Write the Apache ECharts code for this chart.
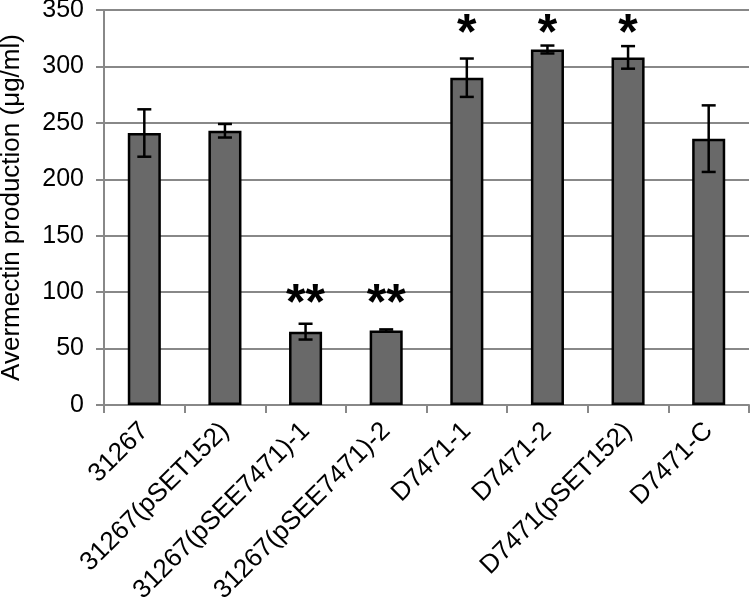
<!DOCTYPE html>
<html><head><meta charset="utf-8">
<script src="https://cdn.jsdelivr.net/npm/echarts@6/dist/echarts.min.js"></script>
<style>html,body{margin:0;padding:0;background:#fff}#c{width:750px;height:599px}</style>
</head><body><div id="c"></div>
<script>
const categories = ['31267','31267(pSET152)','31267(pSEE7471)-1','31267(pSEE7471)-2','D7471-1','D7471-2','D7471(pSET152)','D7471-C'];
const means = [241, 243, 65, 66, 290, 315, 308, 236];
const errors = [21, 6, 7, 1, 17, 3.5, 10, 29.5];
const stars = ['', '', '**', '**', '*', '*', '*', ''];
const starLevels = [null, null, 88, 88, 328, 328, 328, null];
const yTicks = [0, 350, 50];

const chart = echarts.init(document.getElementById('c'));
const font = '"Liberation Sans", Arial, sans-serif';
const starData = stars.map((s, i) => [i, starLevels[i], s]).filter(d => d[2] !== '');
chart.setOption({
  animation: false,
  grid: {left: 104, right: 1, top: 10, bottom: 194, containLabel: false, outerBoundsMode: 'none'},
  xAxis: {
    type: 'category', data: categories,
    axisLine: {lineStyle: {color: '#888', width: 2}},
    axisTick: {show: true, alignWithLabel: false, length: 8, lineStyle: {color: '#888', width: 2}},
    axisLabel: {rotate: 45, fontSize: 26, color: '#000', fontFamily: font, margin: 22, interval: 0, hideOverlap: false}
  },
  yAxis: {
    type: 'value', min: yTicks[0], max: yTicks[1], interval: yTicks[2],
    name: 'Avermectin production (μg/ml)', nameLocation: 'middle', nameGap: 79,
    nameTextStyle: {fontSize: 26, color: '#000', fontFamily: font},
    axisLine: {show: true, lineStyle: {color: '#888', width: 2}},
    axisTick: {show: true, inside: false, length: 8, lineStyle: {color: '#888', width: 2}},
    splitLine: {lineStyle: {color: '#888', width: 2}},
    axisLabel: {fontSize: 25, color: '#000', fontFamily: font, margin: 20}
  },
  series: [
    {
      type: 'bar', data: means, barWidth: '41%',
      itemStyle: {color: '#696969', borderColor: '#000', borderWidth: 2.5},
      z: 2
    },
    {
      type: 'custom', z: 5,
      data: means.map((m, i) => [i, m - errors[i], m + errors[i]]),
      renderItem: function (params, api) {
        const lo = api.coord([api.value(0), api.value(1)]);
        const hi = api.coord([api.value(0), api.value(2)]);
        const hw = 7;
        const st = {stroke: '#000', lineWidth: 2.5};
        return {type: 'group', children: [
          {type: 'line', shape: {x1: lo[0], y1: lo[1], x2: hi[0], y2: hi[1]}, style: st},
          {type: 'line', shape: {x1: lo[0]-hw, y1: lo[1], x2: lo[0]+hw, y2: lo[1]}, style: st},
          {type: 'line', shape: {x1: hi[0]-hw, y1: hi[1], x2: hi[0]+hw, y2: hi[1]}, style: st}
        ]};
      }
    },
    {
      type: 'custom', z: 6,
      data: starData,
      renderItem: function (params, api) {
        const p = api.coord([api.value(0), api.value(1)]);
        const d = starData[params.dataIndex];
        return {type: 'text', x: p[0], y: p[1], style: {
          text: d[2], fill: '#000', fontSize: 50, fontWeight: 'bold', fontFamily: font,
          align: 'center', verticalAlign: 'middle'
        }};
      }
    }
  ]
});
</script></body></html>
